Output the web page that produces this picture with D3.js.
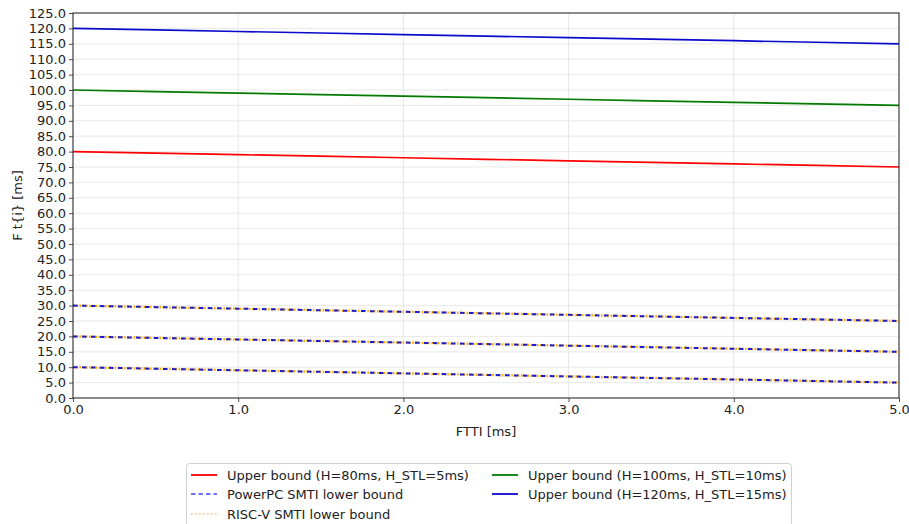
<!DOCTYPE html>
<html>
<head>
<meta charset="utf-8">
<script src="https://cdn.jsdelivr.net/npm/d3@7"></script>
<style>
  body { margin: 0; background: #fff; }
  svg { display: block; font-family: "DejaVu Sans", sans-serif; }
</style>
</head>
<body>
<svg id="chart" width="909" height="524"></svg>
<script>
// ---- Data ----
const ftti = [0, 0.5, 1.0, 1.5, 2.0, 2.5, 3.0, 3.5, 4.0, 4.5, 5.0];
const upper80  = [80, 79.5, 79, 78.5, 78, 77.5, 77, 76.5, 76, 75.5, 75];
const upper100 = [100, 99.5, 99, 98.5, 98, 97.5, 97, 96.5, 96, 95.5, 95];
const upper120 = [120, 119.5, 119, 118.5, 118, 117.5, 117, 116.5, 116, 115.5, 115];
const lowerA = [30, 29.5, 29, 28.5, 28, 27.5, 27, 26.5, 26, 25.5, 25];
const lowerB = [20, 19.5, 19, 18.5, 18, 17.5, 17, 16.5, 16, 15.5, 15];
const lowerC = [10, 9.5, 9, 8.5, 8, 7.5, 7, 6.5, 6, 5.5, 5];
const xTicks = [0, 1, 2, 3, 4, 5];
const yTicks = [0,5,10,15,20,25,30,35,40,45,50,55,60,65,70,75,80,85,90,95,100,105,110,115,120,125];
const legendLabels = [
  "Upper bound (H=80ms, H_STL=5ms)",
  "PowerPC SMTI lower bound",
  "RISC-V SMTI lower bound",
  "Upper bound (H=100ms, H_STL=10ms)",
  "Upper bound (H=120ms, H_STL=15ms)"
];

// ---- Layout ----
const svg = d3.select("#chart");
const L = 73, R = 899, T = 13, B = 398;
const FS = 13;
const x = d3.scaleLinear().domain([0, 5]).range([L, R]);
const y = d3.scaleLinear().domain([0, 125]).range([B, T]);

// grid
const g = svg.append("g");
g.selectAll(".hg").data(yTicks).enter().append("line")
  .attr("x1", L).attr("x2", R)
  .attr("y1", d => y(d)).attr("y2", d => y(d))
  .attr("stroke", "#e3e3e3").attr("stroke-width", 0.8);
g.selectAll(".vg").data(xTicks).enter().append("line")
  .attr("y1", T).attr("y2", B)
  .attr("x1", d => x(d)).attr("x2", d => x(d))
  .attr("stroke", "#e0e0e0").attr("stroke-width", 0.8);

const line = d3.line().x((d, i) => x(ftti[i])).y(d => y(d));

// lower bounds: RISC-V dotted orange then PowerPC dashed blue
[lowerA, lowerB, lowerC].forEach(s => {
  svg.append("path").datum(s).attr("d", line).attr("fill", "none")
    .attr("stroke", "#ffa500").attr("stroke-width", 2.4)
    .attr("stroke-dasharray", "1.6,1.6");
  svg.append("path").datum(s).attr("d", line).attr("fill", "none")
    .attr("stroke", "#1c1cc8").attr("stroke-width", 2)
    .attr("stroke-dasharray", "4.5,4.5");
});

// upper bounds
[[upper80, "#ff0000"], [upper100, "#007a00"], [upper120, "#0a0acc"]].forEach(([s, c]) => {
  svg.append("path").datum(s).attr("d", line).attr("fill", "none")
    .attr("stroke", c).attr("stroke-width", 1.7);
});

// axes
const xAxis = d3.axisBottom(x).tickValues(xTicks).tickFormat(d3.format(".1f")).tickSize(4).tickPadding(3);
const yAxis = d3.axisLeft(y).tickValues(yTicks).tickFormat(d3.format(".1f")).tickSize(4).tickPadding(3);
const gx = svg.append("g").attr("transform", `translate(0,${B})`).call(xAxis);
const gy = svg.append("g").attr("transform", `translate(${L},0)`).call(yAxis);
[gx, gy].forEach(a => {
  a.select(".domain").remove();
  a.selectAll("text").attr("font-size", FS).attr("fill", "#222").attr("font-family", "DejaVu Sans");
  a.selectAll("line").attr("stroke", "#222").attr("stroke-width", 0.8);
});
// spines
svg.append("rect").attr("x", L).attr("y", T).attr("width", R - L).attr("height", B - T)
  .attr("fill", "none").attr("stroke", "#222").attr("stroke-width", 1);

// labels
svg.append("text").attr("x", (L + R) / 2).attr("y", 436).attr("text-anchor", "middle")
  .attr("font-size", FS).attr("fill", "#222").text("FTTI [ms]");
svg.append("text").attr("transform", `translate(22,${(T + B) / 2}) rotate(-90)`)
  .attr("text-anchor", "middle").attr("font-size", FS).attr("fill", "#222").text("F t{i} [ms]");

// legend
const lg = svg.append("g");
lg.append("rect").attr("x", 186.5).attr("y", 463.5).attr("width", 605).attr("height", 70)
  .attr("rx", 3).attr("fill", "#fff").attr("stroke", "#d0d0d0").attr("stroke-width", 1);
const items = [
  {lab: legendLabels[0], col: "#ff0000", dash: null, cx: 191, cy: 475},
  {lab: legendLabels[1], col: "#7070ff", dash: "4.5,3", cx: 191, cy: 494},
  {lab: legendLabels[2], col: "#ffcc80", dash: "1.5,2.5", cx: 191, cy: 514},
  {lab: legendLabels[3], col: "#007a00", dash: null, cx: 492, cy: 475},
  {lab: legendLabels[4], col: "#0a0acc", dash: null, cx: 492, cy: 494}
];
items.forEach(it => {
  const ln = lg.append("line").attr("x1", it.cx).attr("x2", it.cx + 26)
    .attr("y1", it.cy).attr("y2", it.cy).attr("stroke", it.col).attr("stroke-width", 1.8);
  if (it.dash) ln.attr("stroke-dasharray", it.dash);
  lg.append("text").attr("x", it.cx + 36).attr("y", it.cy + 4.8)
    .attr("font-size", FS).attr("fill", "#222").text(it.lab);
});
</script>
</body>
</html>
